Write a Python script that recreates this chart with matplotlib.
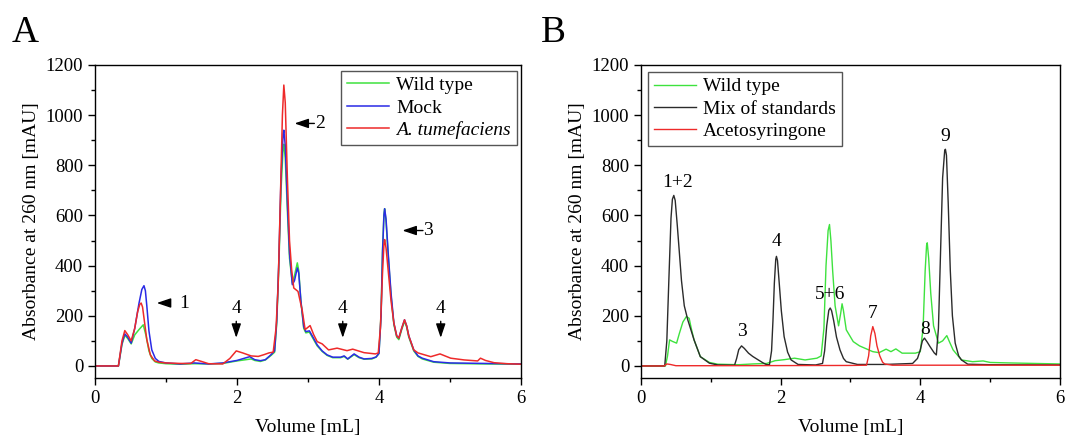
import matplotlib
matplotlib.use("Agg")
import matplotlib.pyplot as plt
from matplotlib.ticker import MultipleLocator

plt.rcParams['font.family'] = ['Liberation Serif', 'DejaVu Serif']

# ---- panel A: (volume mL, absorbance mAU) ----
wt_a = [(0, 0), (0.33, 0), (0.38, 85), (0.42, 122), (0.46, 110), (0.51, 88), (0.56, 124),
        (0.62, 145), (0.68, 164), (0.72, 120), (0.76, 60), (0.80, 30), (0.85, 16), (0.9, 12),
        (1.0, 9), (1.2, 7), (1.4, 9), (1.6, 8), (1.8, 10), (2.0, 20), (2.2, 28), (2.25, 22),
        (2.33, 18), (2.4, 24), (2.48, 42), (2.53, 55), (2.56, 170), (2.59, 400), (2.62, 700),
        (2.65, 870), (2.66, 884), (2.68, 830), (2.71, 620), (2.74, 430), (2.78, 330),
        (2.81, 360), (2.85, 411), (2.87, 380), (2.9, 260), (2.94, 150), (2.97, 132),
        (3.02, 135), (3.08, 105), (3.13, 80), (3.2, 58), (3.27, 42), (3.35, 33), (3.46, 33),
        (3.51, 38), (3.56, 27), (3.65, 45), (3.72, 33), (3.79, 27), (3.9, 28), (3.96, 35),
        (4.0, 50), (4.03, 210), (4.05, 460), (4.07, 605), (4.08, 627), (4.10, 575),
        (4.13, 440), (4.17, 280), (4.21, 165), (4.25, 115), (4.28, 105), (4.32, 145),
        (4.36, 178), (4.39, 155), (4.42, 115), (4.49, 60), (4.55, 38), (4.61, 28),
        (4.77, 15), (5.0, 10), (5.5, 8), (6.0, 7)]
mock_a = [(0, 0), (0.33, 0), (0.38, 90), (0.42, 128), (0.46, 115), (0.51, 91), (0.56, 150),
          (0.62, 250), (0.66, 305), (0.69, 320), (0.71, 300), (0.73, 240), (0.76, 140),
          (0.80, 64), (0.85, 30), (0.9, 18), (1.0, 12), (1.2, 8), (1.4, 12), (1.6, 8),
          (1.8, 12), (2.0, 22), (2.18, 37), (2.25, 25), (2.33, 21), (2.4, 25), (2.48, 45),
          (2.53, 60), (2.56, 180), (2.59, 420), (2.62, 750), (2.65, 925), (2.66, 940),
          (2.68, 880), (2.71, 650), (2.74, 450), (2.78, 324), (2.81, 340), (2.85, 391),
          (2.87, 370), (2.9, 260), (2.94, 157), (2.97, 137), (3.02, 140), (3.08, 110),
          (3.13, 84), (3.2, 60), (3.27, 44), (3.35, 35), (3.46, 35), (3.51, 40), (3.56, 28),
          (3.65, 48), (3.72, 35), (3.79, 28), (3.9, 30), (3.96, 36), (4.0, 50), (4.03, 200),
          (4.05, 450), (4.07, 600), (4.08, 627), (4.10, 585), (4.13, 450), (4.17, 290),
          (4.21, 171), (4.25, 120), (4.28, 111), (4.32, 150), (4.36, 184), (4.39, 160),
          (4.42, 120), (4.49, 64), (4.55, 40), (4.61, 31), (4.77, 17), (5.0, 12), (5.5, 10),
          (6.0, 8)]
agro_a = [(0, 0), (0.33, 0), (0.38, 100), (0.42, 141), (0.46, 125), (0.51, 100), (0.56, 150),
          (0.60, 215), (0.63, 245), (0.65, 251), (0.67, 235), (0.70, 170), (0.73, 105),
          (0.78, 44), (0.84, 20), (0.9, 15), (1.0, 12), (1.2, 10), (1.35, 10), (1.42, 25),
          (1.5, 18), (1.6, 9), (1.8, 8), (1.9, 30), (1.99, 60), (2.08, 52), (2.2, 40),
          (2.3, 38), (2.38, 45), (2.45, 52), (2.51, 55), (2.55, 150), (2.58, 320),
          (2.61, 650), (2.64, 1000), (2.66, 1120), (2.68, 1050), (2.71, 750), (2.74, 500),
          (2.77, 384), (2.80, 311), (2.86, 297), (2.92, 220), (2.96, 145), (3.03, 161),
          (3.08, 125), (3.13, 97), (3.2, 88), (3.29, 64), (3.41, 71), (3.55, 61), (3.63, 67),
          (3.79, 53), (3.95, 48), (3.99, 52), (4.02, 150), (4.05, 370), (4.07, 485),
          (4.08, 504), (4.10, 470), (4.13, 380), (4.17, 260), (4.21, 171), (4.25, 120),
          (4.28, 111), (4.32, 150), (4.36, 184), (4.39, 160), (4.42, 120), (4.49, 64),
          (4.55, 52), (4.61, 47), (4.73, 37), (4.86, 48), (5.01, 31), (5.2, 24), (5.39, 20),
          (5.43, 31), (5.5, 22), (5.62, 13), (5.8, 9), (6.0, 7)]

# ---- panel B ----
wt_b = [(0, 0), (0.35, 0), (0.38, 40), (0.41, 104), (0.45, 98), (0.51, 91), (0.55, 130),
        (0.6, 175), (0.65, 197), (0.69, 190), (0.72, 150), (0.76, 104), (0.85, 37),
        (0.98, 14), (1.1, 7), (1.4, 5), (1.6, 8), (1.8, 10), (1.92, 21), (2.05, 25),
        (2.2, 31), (2.35, 24), (2.52, 31), (2.58, 40), (2.62, 150), (2.65, 400), (2.68, 540),
        (2.70, 564), (2.72, 500), (2.745, 380), (2.78, 240), (2.83, 160), (2.86, 210),
        (2.88, 248), (2.90, 220), (2.94, 144), (3.04, 97), (3.13, 80), (3.32, 57),
        (3.41, 53), (3.51, 67), (3.58, 57), (3.65, 68), (3.74, 51), (3.93, 51), (4.0, 57),
        (4.04, 150), (4.07, 380), (4.09, 480), (4.10, 491), (4.12, 430), (4.15, 290),
        (4.19, 160), (4.26, 91), (4.32, 100), (4.38, 121), (4.42, 95), (4.47, 64),
        (4.59, 24), (4.75, 17), (4.9, 20), (5.0, 14), (5.28, 12), (6.0, 8)]
mix_b = [(0, 0), (0.34, 0), (0.37, 100), (0.40, 350), (0.43, 590), (0.45, 665), (0.47, 680),
         (0.49, 660), (0.52, 560), (0.55, 451), (0.58, 340), (0.62, 240), (0.67, 184),
         (0.76, 104), (0.85, 37), (0.98, 11), (1.1, 4), (1.34, 3), (1.37, 30), (1.40, 65),
         (1.44, 80), (1.48, 70), (1.54, 51), (1.6, 38), (1.68, 24), (1.75, 12), (1.80, 5),
         (1.84, 5), (1.87, 60), (1.89, 180), (1.91, 330), (1.93, 425), (1.94, 437),
         (1.955, 420), (1.98, 330), (2.01, 220), (2.05, 117), (2.1, 55), (2.15, 24),
         (2.25, 6), (2.5, 4), (2.60, 10), (2.63, 60), (2.66, 160), (2.69, 222), (2.71, 231),
         (2.73, 220), (2.76, 180), (2.80, 115), (2.85, 64), (2.9, 30), (2.94, 17), (3.1, 6),
         (3.5, 6), (3.89, 10), (3.96, 30), (4.0, 64), (4.03, 100), (4.06, 111), (4.1, 95),
         (4.14, 77), (4.2, 52), (4.23, 44), (4.26, 150), (4.29, 450), (4.32, 750),
         (4.35, 860), (4.36, 864), (4.375, 840), (4.40, 650), (4.43, 380), (4.46, 200),
         (4.50, 91), (4.55, 40), (4.59, 24), (4.68, 7), (5.0, 5), (6.0, 4)]
aceto_b = [(0, 0), (0.33, 0), (0.37, 8), (0.42, 6), (0.5, 1), (1.0, 1), (3.0, 2), (3.23, 3),
           (3.26, 40), (3.29, 120), (3.32, 157), (3.35, 130), (3.38, 80), (3.42, 40),
           (3.46, 15), (3.49, 8), (3.6, 3), (6.0, 3)]

# peak labels
arrows_a = [("1", 0.87, 1.05, 1.26, 251), ("2", 2.81, 3.09, 3.17, 967),
            ("3", 4.33, 4.62, 4.69, 540)]
down_a = [1.99, 3.49, 4.87]
labels_b = [("1+2", 0.52, 731), ("3", 1.45, 137), ("4", 1.94, 497), ("5+6", 2.71, 284),
            ("7", 3.32, 208), ("8", 4.07, 147), ("9", 4.36, 915)]

GREEN = '#3ee23e'
BLUE = '#2a2ae6'
RED = '#ee2a2a'
BLACK = '#2b2b2b'


def xy(pts):
    return [p[0] for p in pts], [p[1] for p in pts]


def style(ax):
    ax.set_xlim(0, 6)
    ax.set_ylim(-48, 1200)
    ax.xaxis.set_major_locator(MultipleLocator(2))
    ax.xaxis.set_minor_locator(MultipleLocator(1))
    ax.yaxis.set_major_locator(MultipleLocator(200))
    ax.yaxis.set_minor_locator(MultipleLocator(100))
    ax.tick_params(which='both', direction='out', labelsize=13.5, top=False, right=False)
    ax.tick_params(which='major', length=5, width=1)
    ax.tick_params(which='minor', length=3, width=1)
    ax.set_xlabel('Volume [mL]', fontsize=14, labelpad=9)
    ax.set_ylabel('Absorbance at 260 nm [mAU]', fontsize=14, labelpad=4)
    for s in ax.spines.values():
        s.set_linewidth(1)


def arrow(ax, head, tail):
    ax.annotate('', xy=head, xytext=tail,
                arrowprops=dict(arrowstyle='-|>,head_length=0.65,head_width=0.22',
                                color='black', lw=1, mutation_scale=13,
                                shrinkA=0, shrinkB=0))


fig = plt.figure(figsize=(10.66, 4.38), dpi=100)
axA = fig.add_axes([0.0891, 0.137, 0.3996, 0.7146])
axB = fig.add_axes([0.6013, 0.137, 0.3930, 0.7146])

axA.plot(*xy(wt_a), color=GREEN, lw=1.1, label='Wild type')
axA.plot(*xy(mock_a), color=BLUE, lw=1.1, label='Mock')
axA.plot(*xy(agro_a), color=RED, lw=1.1, label='A. tumefaciens')
style(axA)
leg = axA.legend(loc='upper right', bbox_to_anchor=(0.99, 0.982), fontsize=14,
                 fancybox=False, edgecolor='#555555', framealpha=1, handlelength=2.2,
                 handletextpad=0.35, labelspacing=0.25, borderpad=0.3, borderaxespad=0)
leg.get_frame().set_linewidth(1)
leg.get_texts()[2].set_fontstyle('italic')

for txt, head, tail, tx, y in arrows_a:
    arrow(axA, (head, y), (tail, y))
    axA.text(tx, y, txt, fontsize=14, ha='center', va='center')
for x in down_a:
    arrow(axA, (x, 112), (x, 178))
    axA.text(x, 228, '4', fontsize=14, ha='center', va='center')

axB.plot(*xy(wt_b), color=GREEN, lw=1.0, label='Wild type')
axB.plot(*xy(mix_b), color=BLACK, lw=1.0, label='Mix of standards')
axB.plot(*xy(aceto_b), color=RED, lw=1.0, label='Acetosyringone')
style(axB)
legB = axB.legend(loc='upper left', bbox_to_anchor=(0.016, 0.978), fontsize=14,
                  fancybox=False, edgecolor='#555555', framealpha=1, handlelength=2.2,
                  handletextpad=0.35, labelspacing=0.25, borderpad=0.3, borderaxespad=0)
legB.get_frame().set_linewidth(1)
for txt, x, y in labels_b:
    axB.text(x, y, txt, fontsize=14, ha='center', va='center')

fig.text(0.024, 0.925, 'A', fontsize=27, ha='center', va='center')
fig.text(0.519, 0.925, 'B', fontsize=27, ha='center', va='center')

fig.savefig('out.png', dpi=100)
